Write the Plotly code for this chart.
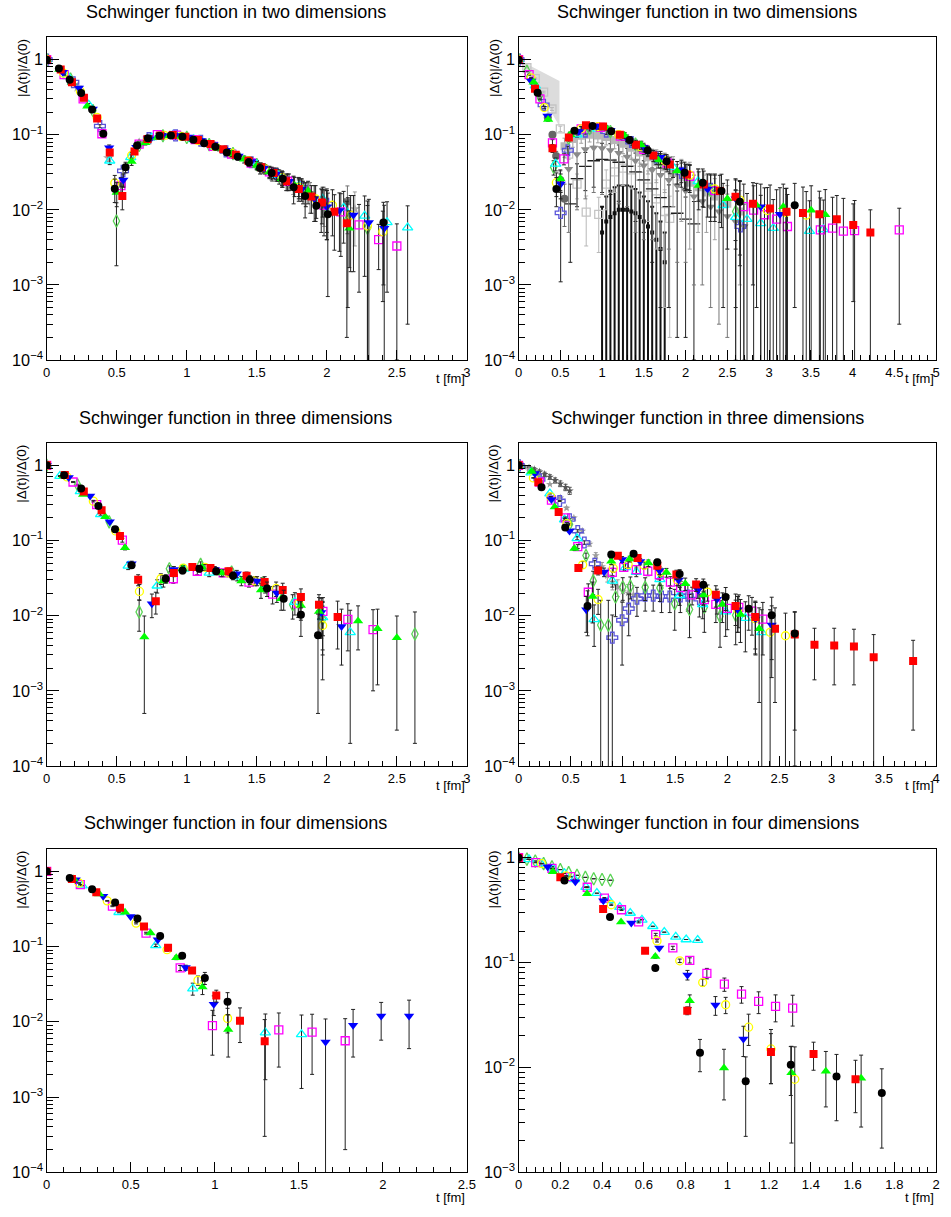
import plotly.graph_objects as go
import math

# ---------------- data ----------------
TITLES = ["Schwinger function in two dimensions", "Schwinger function in two dimensions",
          "Schwinger function in three dimensions", "Schwinger function in three dimensions",
          "Schwinger function in four dimensions", "Schwinger function in four dimensions"]
X_MAX = [3, 5, 3, 4, 2.5, 2]
Y_MIN = [1e-4, 1e-4, 1e-4, 1e-4, 1e-4, 1e-3]
Y_MAX = [2, 2, 2, 2, 2, 1.22]
X_TITLE = "t [fm]"
Y_TITLE = "|Δ(t)|/Δ(0)"

# ---- panel 1 : 2D, left ----
P1_BLACK_T = [0, 0.087, 0.164, 0.246, 0.324, 0.404, 0.486, 0.563, 0.645, 0.723, 0.805, 0.887, 0.969, 1.047, 1.124, 1.204, 1.286, 1.364, 1.443, 1.523, 1.606, 1.685, 1.763, 1.845, 1.925, 2.007, 2.404]
P1_BLACK_Y = [1, 0.76, 0.54, 0.36, 0.216, 0.103, 0.0191, 0.037, 0.0716, 0.090, 0.097, 0.098, 0.094, 0.086, 0.077, 0.069, 0.058, 0.051, 0.043, 0.036, 0.031, 0.026, 0.020, 0.0153, 0.0113, 0.0087, 0.0068]
P1_BLACK_E = [0, 0.01, 0.01, 0.01, 0.008, 0.006, 0.0066, 0.006, 0.005, 0.005, 0.005, 0.005, 0.005, 0.005, 0.005, 0.005, 0.005, 0.005, 0.005, 0.006, 0.006, 0.006, 0.008, 0.0075, 0.0036, 0.008, 0.0058]
P1_RED_T = [0, 0.1, 0.18, 0.265, 0.36, 0.45, 0.54, 0.627, 0.72, 0.81, 0.9, 0.99, 1.08, 1.17, 1.26, 1.35, 1.44, 1.53, 1.62, 1.71, 1.80, 1.89, 1.965, 2.054, 2.143]
P1_RED_Y = [1, 0.74, 0.5, 0.31, 0.165, 0.058, 0.0153, 0.060, 0.088, 0.098, 0.099, 0.094, 0.085, 0.075, 0.064, 0.054, 0.045, 0.037, 0.031, 0.024, 0.019, 0.015, 0.0125, 0.0094, 0.0066]
P1_RED_E = [0, 0.01, 0.01, 0.008, 0.006, 0.005, 0.0053, 0.005, 0.005, 0.005, 0.005, 0.005, 0.005, 0.005, 0.005, 0.005, 0.005, 0.005, 0.005, 0.006, 0.006, 0.006, 0.006, 0.0065, 0.0064]
P1_GREEN_T = [0, 0.09, 0.18, 0.29, 0.5, 0.606, 0.704, 0.79, 0.875, 0.96, 1.05, 1.14, 1.23, 1.32, 1.41, 1.50, 1.59, 1.68, 1.77, 1.866, 1.96, 2.16]
P1_GREEN_Y = [1, 0.74, 0.5, 0.24, 0.017, 0.044, 0.078, 0.092, 0.097, 0.095, 0.086, 0.076, 0.066, 0.056, 0.047, 0.039, 0.032, 0.026, 0.021, 0.018, 0.012, 0.0057]
P1_GREEN_E = [0, 0.01, 0.01, 0.008, 0.006, 0.005, 0.005, 0.005, 0.005, 0.005, 0.005, 0.005, 0.005, 0.005, 0.005, 0.005, 0.005, 0.006, 0.006, 0.006, 0.007, 0.004]
P1_BLUE_T = [0, 0.115, 0.23, 0.329, 0.446, 0.547, 0.64, 0.74, 0.83, 0.92, 1.01, 1.1, 1.19, 1.28, 1.37, 1.46, 1.55, 1.64, 1.73, 1.82, 1.91, 2.0, 2.09, 2.19, 2.3, 2.41]
P1_BLUE_Y = [1, 0.68, 0.42, 0.22, 0.067, 0.025, 0.068, 0.088, 0.097, 0.098, 0.093, 0.084, 0.074, 0.062, 0.052, 0.044, 0.036, 0.030, 0.024, 0.019, 0.014, 0.011, 0.0098, 0.0085, 0.0068, 0.0057]
P1_BLUE_E = [0, 0.01, 0.01, 0.008, 0.006, 0.005, 0.005, 0.005, 0.005, 0.005, 0.005, 0.005, 0.005, 0.005, 0.005, 0.005, 0.005, 0.005, 0.006, 0.006, 0.007, 0.007, 0.007, 0.007, 0.007, 0.0058]
P1_YELLOW_T = [0, 0.12, 0.24, 0.36, 0.486, 0.606, 0.72, 0.84, 0.96, 1.08, 1.2, 1.32, 1.44, 1.56, 1.68, 1.8, 1.92, 2.04, 2.17, 2.29, 2.4]
P1_YELLOW_Y = [1, 0.66, 0.38, 0.17, 0.0227, 0.053, 0.085, 0.098, 0.095, 0.084, 0.07, 0.057, 0.045, 0.035, 0.027, 0.02, 0.014, 0.0115, 0.0085, 0.0061, 0.0051]
P1_YELLOW_E = [0, 0.01, 0.01, 0.008, 0.006, 0.005, 0.005, 0.005, 0.005, 0.005, 0.005, 0.005, 0.005, 0.005, 0.006, 0.006, 0.007, 0.007, 0.007, 0.007, 0.0045]
P1_MAGENTA_T = [0, 0.124, 0.26, 0.394, 0.53, 0.66, 0.79, 0.927, 1.06, 1.19, 1.32, 1.46, 1.59, 1.72, 1.85, 1.98, 2.1, 2.23, 2.37, 2.5]
P1_MAGENTA_Y = [1, 0.63, 0.3, 0.103, 0.021, 0.075, 0.1, 0.099, 0.086, 0.07, 0.055, 0.042, 0.032, 0.024, 0.017, 0.0115, 0.0094, 0.0063, 0.004, 0.0033]
P1_MAGENTA_E = [0, 0.01, 0.01, 0.006, 0.006, 0.005, 0.005, 0.005, 0.005, 0.005, 0.005, 0.005, 0.006, 0.006, 0.006, 0.007, 0.007, 0.0055, 0.0024, 0.0032]
P1_CYAN_T = [0, 0.15, 0.3, 0.45, 0.6, 0.75, 0.9, 1.05, 1.2, 1.35, 1.5, 1.65, 1.8, 1.97, 2.12, 2.27, 2.43, 2.577]
P1_CYAN_Y = [1, 0.6, 0.25, 0.045, 0.05, 0.092, 0.099, 0.087, 0.07, 0.054, 0.04, 0.029, 0.021, 0.014, 0.0106, 0.0083, 0.0068, 0.0058]
P1_CYAN_E = [0, 0.01, 0.01, 0.005, 0.005, 0.005, 0.005, 0.005, 0.005, 0.005, 0.005, 0.005, 0.006, 0.006, 0.007, 0.007, 0.006, 0.0055]
P1_DIAMOND_T = [0, 0.17, 0.33, 0.498, 0.66, 0.83, 1.0, 1.16, 1.33, 1.5, 1.66, 1.83, 2.0, 2.15, 2.29]
P1_DIAMOND_Y = [1, 0.55, 0.21, 0.0071, 0.072, 0.097, 0.092, 0.074, 0.056, 0.04, 0.028, 0.018, 0.011, 0.0075, 0.0057]
P1_DIAMOND_E = [0, 0.01, 0.008, 0.0053, 0.005, 0.005, 0.005, 0.005, 0.005, 0.005, 0.006, 0.006, 0.007, 0.007, 0.0057]
P1_CROSS_T = [0, 0.19, 0.38, 0.545, 0.73, 0.92, 1.1, 1.28, 1.46, 1.64, 1.82, 2.0]
P1_CROSS_Y = [1, 0.5, 0.13, 0.033, 0.09, 0.098, 0.083, 0.06, 0.043, 0.03, 0.02, 0.012]
P1_CROSS_E = [0, 0.01, 0.006, 0.005, 0.005, 0.005, 0.005, 0.005, 0.005, 0.006, 0.006, 0.007]
P1_STAR_T = [0, 0.22, 0.44, 0.66, 0.88, 1.1, 1.32, 1.54, 1.76, 1.98, 2.2]
P1_STAR_Y = [1, 0.43, 0.049, 0.078, 0.098, 0.083, 0.055, 0.035, 0.022, 0.013, 0.0103]
P1_STAR_E = [0, 0.01, 0.005, 0.005, 0.005, 0.005, 0.005, 0.005, 0.006, 0.007, 0.007]
P1_GSQ_T = [0, 0.27, 0.54, 0.81, 1.07, 1.34, 1.61, 1.88, 2.147]
P1_GSQ_Y = [1, 0.31, 0.022, 0.097, 0.086, 0.053, 0.03, 0.016, 0.0128]
P1_GSQ_E = [0, 0.008, 0.005, 0.005, 0.005, 0.005, 0.006, 0.007, 0.008]

# ---- panel 2 : 2D, right ----
P2_BLACK_T = [0, 0.228, 0.453, 0.669, 0.886, 1.11, 1.33, 1.547, 1.772, 1.988, 2.205, 2.43, 2.65, 3.307]
P2_BLACK_Y = [1, 0.363, 0.019, 0.113, 0.131, 0.111, 0.085, 0.0615, 0.0444, 0.0311, 0.023, 0.0178, 0.0128, 0.0115]
P2_BLACK_E = [0, 0.01, 0.008, 0.008, 0.008, 0.008, 0.009, 0.009, 0.01, 0.012, 0.012, 0.012, 0.011, 0.011]
P2_RED_T = [0, 0.197, 0.406, 0.602, 0.807, 1.012, 1.213, 1.406, 1.614, 1.811, 2.016, 2.217, 2.41, 2.598, 2.807, 3.012, 3.209, 3.406, 3.602, 3.811, 4.008, 4.213]
P2_RED_Y = [1, 0.41, 0.066, 0.092, 0.134, 0.129, 0.1, 0.0738, 0.0528, 0.0402, 0.0296, 0.0218, 0.0178, 0.0149, 0.012, 0.0104, 0.0094, 0.0091, 0.0087, 0.0075, 0.0063, 0.005]
P2_RED_E = [0, 0.01, 0.008, 0.008, 0.008, 0.008, 0.008, 0.009, 0.009, 0.01, 0.011, 0.011, 0.011, 0.011, 0.011, 0.011, 0.01, 0.011, 0.009, 0.008, 0.0057, 0.005]
P2_GREEN_T = [0, 0.18, 0.354, 0.5, 0.62, 0.83, 1.05, 1.27, 1.47, 1.673, 1.9, 2.157, 2.5, 2.85, 3.17, 3.504, 3.673]
P2_GREEN_Y = [1, 0.5, 0.16, 0.026, 0.1, 0.128, 0.124, 0.098, 0.073, 0.046, 0.033, 0.021, 0.014, 0.0115, 0.011, 0.0099, 0.0086]
P2_GREEN_E = [0, 0.01, 0.008, 0.008, 0.008, 0.008, 0.008, 0.009, 0.009, 0.01, 0.011, 0.011, 0.011, 0.011, 0.011, 0.011, 0.01]
P2_BLUE_T = [0, 0.15, 0.346, 0.504, 0.72, 0.93, 1.1, 1.3, 1.496, 1.7, 1.95, 2.264, 2.6, 2.9, 3.13]
P2_BLUE_Y = [1, 0.52, 0.178, 0.022, 0.11, 0.13, 0.115, 0.09, 0.068, 0.05, 0.034, 0.019, 0.014, 0.011, 0.0087]
P2_BLUE_E = [0, 0.01, 0.008, 0.008, 0.008, 0.008, 0.008, 0.009, 0.009, 0.01, 0.011, 0.011, 0.011, 0.011, 0.011]
P2_YELLOW_T = [0, 0.15, 0.307, 0.453, 0.75, 0.95, 1.2, 1.45, 1.75, 2.05, 2.35, 2.65, 2.98, 3.2, 3.445]
P2_YELLOW_Y = [1, 0.57, 0.23, 0.023, 0.12, 0.128, 0.1, 0.07, 0.045, 0.029, 0.019, 0.0135, 0.0098, 0.0092, 0.0085]
P2_YELLOW_E = [0, 0.01, 0.008, 0.008, 0.008, 0.008, 0.008, 0.009, 0.01, 0.011, 0.011, 0.011, 0.01, 0.01, 0.009]
P2_MAGENTA_T = [0, 0.126, 0.256, 0.406, 0.543, 0.75, 0.98, 1.22, 1.5, 1.78, 2.05, 2.35, 2.697, 2.815, 2.945, 3.09, 3.22, 3.614, 3.76, 3.89, 4.024, 4.559]
P2_MAGENTA_Y = [1, 0.63, 0.30, 0.078, 0.0477, 0.12, 0.125, 0.096, 0.064, 0.042, 0.028, 0.018, 0.011, 0.0099, 0.0086, 0.0075, 0.006, 0.0054, 0.0057, 0.0052, 0.0053, 0.0054]
P2_MAGENTA_E = [0, 0.01, 0.008, 0.008, 0.008, 0.008, 0.008, 0.009, 0.009, 0.01, 0.011, 0.011, 0.011, 0.011, 0.011, 0.011, 0.01, 0.009, 0.009, 0.009, 0.008, 0.0051]
P2_CYAN_T = [0, 0.2, 0.445, 0.7, 0.95, 1.25, 1.55, 1.85, 2.15, 2.45, 2.6, 2.736, 2.9, 3.05, 3.484, 3.65]
P2_CYAN_Y = [1, 0.45, 0.041, 0.1, 0.12, 0.093, 0.06, 0.037, 0.024, 0.0115, 0.008, 0.0075, 0.0066, 0.0057, 0.0052, 0.0055]
P2_CYAN_E = [0, 0.01, 0.008, 0.008, 0.008, 0.009, 0.009, 0.01, 0.011, 0.011, 0.01, 0.009, 0.009, 0.008, 0.008, 0.008]
P2_DIAMOND_T = [0, 0.1, 0.25, 0.42, 0.6, 0.85, 1.1, 1.4, 1.7, 2.0, 2.3, 2.6]
P2_DIAMOND_Y = [1, 0.7, 0.33, 0.037, 0.09, 0.12, 0.11, 0.075, 0.046, 0.029, 0.018, 0.0095]
P2_DIAMOND_E = [0, 0.01, 0.008, 0.008, 0.008, 0.008, 0.009, 0.009, 0.01, 0.011, 0.011, 0.009]
P2_CROSS_T = [0, 0.3, 0.504, 0.59, 0.8, 1.05, 1.35, 1.65, 1.95, 2.3, 2.657]
P2_CROSS_Y = [1, 0.25, 0.0091, 0.062, 0.11, 0.11, 0.08, 0.05, 0.031, 0.019, 0.006]
P2_CROSS_E = [0, 0.01, 0.008, 0.008, 0.008, 0.009, 0.009, 0.01, 0.011, 0.011, 0.006]
# grey lattice series of panel 2
P2_BAND_T = [0, 0.1, 0.2, 0.3, 0.4, 0.49]
P2_BAND_HI = [1, 0.875, 0.76, 0.66, 0.58, 0.52]
P2_BAND_LO = [1, 0.68, 0.46, 0.3, 0.19, 0.13]
P2_GA_T = [0.55, 0.65, 0.75, 0.85, 0.95, 1.05, 1.15, 1.25, 1.35, 1.45, 1.55, 1.65, 1.75, 1.85, 1.95, 2.05, 2.15, 2.25, 2.35, 2.5, 2.65]
P2_GA_Y = [0.07, 0.088, 0.097, 0.1, 0.098, 0.093, 0.085, 0.076, 0.067, 0.058, 0.05, 0.043, 0.037, 0.031, 0.027, 0.023, 0.02, 0.017, 0.015, 0.012, 0.0095]
P2_GA_E = [0.02, 0.02, 0.02, 0.02, 0.02, 0.02, 0.02, 0.02, 0.02, 0.02, 0.02, 0.02, 0.02, 0.02, 0.02, 0.02, 0.015, 0.012, 0.011, 0.009, 0.0085]
P2_GB_T = [0.6, 0.7, 0.8, 0.9, 1.0, 1.1, 1.2, 1.3, 1.4, 1.5, 1.6, 1.7, 1.8, 1.9, 2.0, 2.1, 2.2, 2.3, 2.4, 2.5, 2.6, 2.7]
P2_GB_Y = [0.035, 0.055, 0.064, 0.067, 0.066, 0.062, 0.057, 0.051, 0.045, 0.039, 0.034, 0.029, 0.025, 0.021, 0.018, 0.015, 0.013, 0.011, 0.0095, 0.0082, 0.007, 0.006]
P2_GB_E = [0.03, 0.045, 0.05, 0.05, 0.05, 0.045, 0.045, 0.04, 0.04, 0.035, 0.03, 0.026, 0.022, 0.019, 0.016, 0.014, 0.012, 0.0105, 0.0092, 0.008, 0.0069, 0.0059]
P2_GC_T = [0.62, 0.7, 0.8, 0.9, 1.0, 1.1, 1.2, 1.3, 1.4, 1.5, 1.6, 1.7, 1.8, 1.9, 2.0, 2.1]
P2_GC_Y = [0.012, 0.026, 0.038, 0.045, 0.047, 0.046, 0.043, 0.038, 0.032, 0.025, 0.019, 0.0145, 0.011, 0.009, 0.0075, 0.0065]
P2_GC_E = [0.01, 0.015, 0.02, 0.025, 0.03, 0.03, 0.03, 0.028, 0.025, 0.02, 0.017, 0.014, 0.0105, 0.0088, 0.0073, 0.0064]
P2_GD_T = [0, 0.1, 0.2, 0.3, 0.4, 0.5, 0.6, 0.7, 0.81, 0.96, 1.05, 1.15, 1.25, 1.35, 1.45, 1.55, 1.65, 1.75, 1.81]
P2_GD_Y = [1, 0.78, 0.56, 0.37, 0.22, 0.12, 0.055, 0.022, 0.0093, 0.0087, 0.022, 0.032, 0.036, 0.034, 0.028, 0.02, 0.014, 0.0095, 0.0077]
P2_GD_E = [0, 0.01, 0.01, 0.01, 0.01, 0.01, 0.008, 0.008, 0.006, 0.006, 0.012, 0.015, 0.015, 0.015, 0.014, 0.013, 0.011, 0.009, 0.0075]
P2_GE_T = [1.0, 1.05, 1.1, 1.15, 1.2, 1.25, 1.3, 1.35, 1.4, 1.45, 1.5, 1.55, 1.6, 1.65, 1.7, 1.75]
P2_GE_Y = [0.005, 0.007, 0.008, 0.009, 0.01, 0.01, 0.01, 0.0095, 0.009, 0.008, 0.007, 0.006, 0.005, 0.004, 0.003, 0.002]
P2_GE_E = [0.006, 0.008, 0.01, 0.011, 0.011, 0.011, 0.011, 0.011, 0.01, 0.009, 0.008, 0.007, 0.006, 0.005, 0.004, 0.003]
P2_GF_T = [0.35, 0.406, 0.45, 0.5, 0.55]
P2_GF_Y = [0.17, 0.1, 0.052, 0.025, 0.014]
P2_GF_E = [0.01, 0.01, 0.008, 0.008, 0.008]

# ---- panel 3 : 3D, left ----
P3_BLACK_T = [0, 0.124, 0.246, 0.369, 0.488, 0.606, 0.85, 0.97, 1.09, 1.21, 1.33, 1.45, 1.573, 1.692, 1.815, 1.937]
P3_BLACK_Y = [1, 0.74, 0.49, 0.287, 0.141, 0.047, 0.031, 0.040, 0.042, 0.039, 0.034, 0.030, 0.023, 0.0168, 0.0103, 0.0055]
P3_BLACK_E = [0, 0.01, 0.01, 0.008, 0.006, 0.004, 0.004, 0.004, 0.004, 0.004, 0.004, 0.004, 0.005, 0.005, 0.005, 0.005]
P3_RED_T = [0, 0.129, 0.265, 0.392, 0.523, 0.653, 0.779, 0.908, 1.04, 1.169, 1.298, 1.427, 1.556, 1.685, 1.815, 1.944, 2.077]
P3_RED_Y = [1, 0.745, 0.45, 0.252, 0.115, 0.030, 0.0155, 0.037, 0.0444, 0.043, 0.039, 0.034, 0.028, 0.022, 0.0177, 0.014, 0.0096]
P3_RED_E = [0, 0.01, 0.01, 0.008, 0.006, 0.005, 0.005, 0.004, 0.004, 0.004, 0.004, 0.004, 0.005, 0.005, 0.005, 0.005, 0.006]
P3_GREEN_T = [0.12, 0.26, 0.418, 0.559, 0.697, 0.833, 0.97, 1.11, 1.249, 1.39, 1.53, 1.674, 1.815, 1.944, 2.223, 2.362, 2.5]
P3_GREEN_Y = [0.72, 0.41, 0.207, 0.080, 0.0052, 0.029, 0.042, 0.044, 0.037, 0.029, 0.022, 0.0168, 0.0137, 0.0114, 0.0085, 0.0067, 0.0051]
P3_GREEN_E = [0.01, 0.008, 0.006, 0.005, 0.0047, 0.005, 0.004, 0.004, 0.004, 0.004, 0.005, 0.005, 0.005, 0.006, 0.005, 0.0055, 0.0048]
P3_BLUE_T = [0, 0.157, 0.31, 0.45, 0.606, 0.751, 0.908, 1.05, 1.2, 1.357, 1.502, 1.643, 1.96, 2.105]
P3_BLUE_Y = [1, 0.69, 0.39, 0.177, 0.049, 0.0144, 0.041, 0.044, 0.041, 0.036, 0.029, 0.020, 0.011, 0.0072]
P3_BLUE_E = [0, 0.01, 0.008, 0.006, 0.004, 0.005, 0.004, 0.004, 0.004, 0.004, 0.004, 0.005, 0.006, 0.005]
P3_YELLOW_T = [0, 0.146, 0.333, 0.493, 0.662, 0.815, 0.974, 1.13, 1.3, 1.486, 1.638, 1.8, 1.97]
P3_YELLOW_Y = [1, 0.70, 0.334, 0.134, 0.021, 0.031, 0.043, 0.044, 0.037, 0.029, 0.023, 0.0145, 0.0074]
P3_YELLOW_E = [0, 0.01, 0.008, 0.006, 0.005, 0.005, 0.004, 0.004, 0.004, 0.004, 0.005, 0.005, 0.006]
P3_MAGENTA_T = [0, 0.188, 0.357, 0.54, 0.904, 1.075, 1.26, 1.444, 1.613, 1.796, 1.972, 2.15, 2.33]
P3_MAGENTA_Y = [1, 0.6, 0.30, 0.101, 0.031, 0.039, 0.037, 0.028, 0.0193, 0.0145, 0.0114, 0.0089, 0.0065]
P3_MAGENTA_E = [0, 0.01, 0.008, 0.006, 0.004, 0.004, 0.004, 0.004, 0.005, 0.005, 0.006, 0.0055, 0.0055]
P3_CYAN_T = [0, 0.094, 0.24, 0.385, 0.582, 0.789, 0.98, 1.16, 1.36, 1.56, 1.772, 1.97, 2.167]
P3_CYAN_Y = [1, 0.72, 0.45, 0.223, 0.046, 0.025, 0.042, 0.037, 0.033, 0.025, 0.0152, 0.0095, 0.006]
P3_CYAN_E = [0, 0.01, 0.008, 0.006, 0.005, 0.005, 0.004, 0.004, 0.004, 0.005, 0.005, 0.006, 0.0058]
P3_DIAMOND_T = [0, 0.22, 0.446, 0.66, 0.876, 1.099, 1.32, 1.54, 1.756, 1.97, 2.629]
P3_DIAMOND_Y = [1, 0.55, 0.177, 0.0112, 0.042, 0.048, 0.038, 0.027, 0.014, 0.009, 0.0057]
P3_DIAMOND_E = [0, 0.01, 0.006, 0.005, 0.004, 0.004, 0.004, 0.005, 0.005, 0.006, 0.0055]

# ---- panel 4 : 3D, right ----
P4_BLACK_T = [0, 0.22, 0.447, 0.661, 0.888, 1.102, 1.329, 1.543, 1.77, 1.984, 2.205, 2.425, 2.646]
P4_BLACK_Y = [1, 0.512, 0.149, 0.0134, 0.0653, 0.0667, 0.0512, 0.0359, 0.0257, 0.0177, 0.0124, 0.0101, 0.0058]
P4_BLACK_E = [0, 0.006, 0.005, 0.008, 0.005, 0.005, 0.005, 0.005, 0.005, 0.006, 0.006, 0.0075, 0.0055]
P4_RED_T = [0, 0.189, 0.384, 0.573, 0.762, 0.951, 1.14, 1.329, 1.512, 1.701, 1.89, 2.079, 2.268, 2.457, 2.646, 2.835, 3.024, 3.213, 3.402, 3.78]
P4_RED_Y = [1, 0.596, 0.239, 0.043, 0.0398, 0.0627, 0.0584, 0.046, 0.0352, 0.026, 0.019, 0.0134, 0.0096, 0.0067, 0.0056, 0.0041, 0.004, 0.0039, 0.0028, 0.0025]
P4_RED_E = [0, 0.006, 0.005, 0.004, 0.005, 0.005, 0.005, 0.005, 0.005, 0.005, 0.006, 0.006, 0.006, 0.006, 0.0055, 0.0027, 0.0028, 0.0027, 0.0028, 0.0022]
P4_GREEN_T = [0, 0.126, 0.346, 0.535, 0.709, 0.888, 1.065, 1.244, 1.417, 1.597, 1.773, 1.953, 2.126, 2.305]
P4_GREEN_Y = [1, 0.83, 0.28, 0.078, 0.018, 0.0528, 0.0567, 0.050, 0.0375, 0.0266, 0.0188, 0.0141, 0.0104, 0.0067]
P4_GREEN_E = [0, 0.006, 0.005, 0.004, 0.01, 0.005, 0.005, 0.005, 0.005, 0.005, 0.005, 0.006, 0.006, 0.006]
P4_BLUE_T = [0, 0.157, 0.315, 0.488, 0.649, 0.819, 0.992, 1.165, 1.35, 1.534, 1.72, 1.9, 2.1, 2.27, 2.425]
P4_BLUE_Y = [1, 0.78, 0.35, 0.134, 0.012, 0.038, 0.056, 0.0524, 0.04, 0.0298, 0.022, 0.0165, 0.012, 0.009, 0.0075]
P4_BLUE_E = [0, 0.006, 0.005, 0.004, 0.006, 0.005, 0.005, 0.005, 0.005, 0.005, 0.005, 0.006, 0.006, 0.006, 0.006]
P4_YELLOW_T = [0, 0.142, 0.309, 0.463, 0.614, 0.762, 0.907, 1.05, 1.203, 1.36, 1.52, 1.81, 2.1, 2.268, 2.41, 2.557]
P4_YELLOW_Y = [1, 0.68, 0.38, 0.168, 0.0474, 0.0164, 0.0427, 0.048, 0.047, 0.038, 0.03, 0.0206, 0.012, 0.0091, 0.006, 0.0054]
P4_YELLOW_E = [0, 0.006, 0.005, 0.005, 0.005, 0.006, 0.005, 0.005, 0.005, 0.005, 0.005, 0.005, 0.006, 0.006, 0.006, 0.0054]
P4_MAGENTA_T = [0, 0.2, 0.315, 0.447, 0.567, 0.668, 0.898, 1.008, 1.128, 1.238, 1.348, 1.455, 1.553, 1.663, 1.78, 1.89, 2.0, 2.11, 2.236, 2.34]
P4_MAGENTA_Y = [1, 0.6, 0.345, 0.2, 0.083, 0.0205, 0.0377, 0.044, 0.041, 0.039, 0.035, 0.028, 0.0236, 0.0189, 0.0163, 0.0141, 0.0125, 0.0129, 0.0115, 0.009]
P4_MAGENTA_E = [0, 0.006, 0.005, 0.005, 0.005, 0.006, 0.005, 0.005, 0.005, 0.005, 0.005, 0.005, 0.005, 0.005, 0.005, 0.006, 0.006, 0.006, 0.006, 0.006]
P4_CYAN_T = [0, 0.12, 0.3, 0.44, 0.561, 0.724, 0.898, 1.024, 1.128, 1.354, 1.543, 1.764, 1.984, 2.173, 2.33]
P4_CYAN_Y = [1, 0.8, 0.42, 0.19, 0.107, 0.0089, 0.029, 0.044, 0.038, 0.0304, 0.0187, 0.0141, 0.0113, 0.0093, 0.006]
P4_CYAN_E = [0, 0.006, 0.005, 0.005, 0.005, 0.005, 0.005, 0.005, 0.005, 0.005, 0.005, 0.005, 0.006, 0.006, 0.006]
P4_DIAMOND_T = [0, 0.2, 0.488, 0.646, 0.715, 0.787, 0.86, 0.929, 0.998, 1.071, 1.213, 1.354, 1.496, 1.638, 1.78, 1.93, 2.08]
P4_DIAMOND_Y = [1, 0.6, 0.164, 0.063, 0.029, 0.0075, 0.0075, 0.0177, 0.024, 0.0247, 0.0239, 0.0234, 0.0144, 0.0121, 0.013, 0.0098, 0.0101]
P4_DIAMOND_E = [0, 0.006, 0.005, 0.005, 0.01, 0.0085, 0.0085, 0.008, 0.008, 0.008, 0.008, 0.008, 0.008, 0.007, 0.007, 0.006, 0.006]
P4_CROSS_T = [0, 0.2, 0.394, 0.488, 0.567, 0.63, 0.73, 0.898, 0.992, 1.055, 1.134, 1.213, 1.29, 1.37, 1.449, 1.55, 1.622, 1.732]
P4_CROSS_Y = [1, 0.65, 0.335, 0.191, 0.134, 0.094, 0.049, 0.0051, 0.0087, 0.0124, 0.0168, 0.0185, 0.0185, 0.018, 0.018, 0.018, 0.0185, 0.0166]
P4_CROSS_E = [0, 0.006, 0.005, 0.005, 0.005, 0.005, 0.005, 0.0051, 0.0065, 0.007, 0.007, 0.007, 0.007, 0.007, 0.007, 0.007, 0.007, 0.007]
P4_STARL_T = [0, 0.1, 0.2, 0.3, 0.4, 0.46, 0.53, 0.61, 0.68, 0.74, 0.8, 0.85, 0.9, 0.95, 1.0, 1.05, 1.1]
P4_STARL_Y = [1, 0.88, 0.75, 0.56, 0.37, 0.27, 0.2, 0.134, 0.09, 0.063, 0.045, 0.034, 0.028, 0.024, 0.021, 0.02, 0.019]
P4_STARL_E = [0, 0.01, 0.01, 0.01, 0.01, 0.01, 0.008, 0.008, 0.006, 0.006, 0.006, 0.006, 0.006, 0.006, 0.006, 0.006, 0.006]
P4_STARD_T = [0, 0.05, 0.1, 0.15, 0.2, 0.25, 0.3, 0.35, 0.4, 0.45, 0.49]
P4_STARD_Y = [1, 0.97, 0.93, 0.88, 0.82, 0.76, 0.7, 0.63, 0.57, 0.51, 0.46]
P4_STARD_E = [0, 0.03, 0.04, 0.05, 0.05, 0.05, 0.05, 0.05, 0.05, 0.05, 0.05]

# ---- panel 5 : 4D, left ----
P5_BLACK_T = [0, 0.137, 0.27, 0.407, 0.54, 0.675, 0.806, 0.941, 1.076]
P5_BLACK_Y = [1, 0.816, 0.578, 0.385, 0.236, 0.138, 0.0756, 0.0383, 0.0184]
P5_BLACK_E = [0, 0.005, 0.005, 0.005, 0.005, 0.004, 0.004, 0.007, 0.006]
P5_RED_T = [0, 0.15, 0.295, 0.436, 0.579, 0.722, 0.865, 1.009, 1.15, 1.297]
P5_RED_Y = [1, 0.79, 0.527, 0.327, 0.185, 0.0966, 0.0479, 0.0223, 0.0103, 0.0055]
P5_RED_E = [0, 0.005, 0.005, 0.005, 0.005, 0.004, 0.004, 0.004, 0.005, 0.0052]
P5_GREEN_T = [0.16, 0.313, 0.466, 0.618, 0.771, 0.927, 1.08]
P5_GREEN_Y = [0.79, 0.50, 0.286, 0.151, 0.071, 0.029, 0.0079]
P5_GREEN_E = [0.005, 0.005, 0.005, 0.004, 0.004, 0.006, 0.0045]
P5_BLUE_T = [0.172, 0.336, 0.499, 0.661, 0.827, 0.994, 1.659, 1.823, 1.99, 2.156]
P5_BLUE_Y = [0.775, 0.467, 0.251, 0.123, 0.0525, 0.0171, 0.0054, 0.009, 0.0119, 0.0119]
P5_BLUE_E = [0.005, 0.005, 0.005, 0.004, 0.004, 0.005, 0.0055, 0.0056, 0.0062, 0.0075]
P5_YELLOW_T = [0.192, 0.36, 0.532, 0.716, 0.9, 1.076]
P5_YELLOW_Y = [0.70, 0.405, 0.205, 0.0908, 0.0356, 0.0111]
P5_YELLOW_E = [0.005, 0.005, 0.005, 0.004, 0.005, 0.004]
P5_MAGENTA_T = [0, 0.2, 0.391, 0.591, 0.794, 0.986, 1.381, 1.579, 1.776]
P5_MAGENTA_Y = [1, 0.666, 0.344, 0.151, 0.052, 0.0089, 0.0078, 0.0073, 0.0056]
P5_MAGENTA_E = [0, 0.005, 0.005, 0.004, 0.004, 0.0053, 0.0053, 0.0053, 0.0054]
P5_CYAN_T = [0.211, 0.43, 0.649, 0.869, 1.301, 1.516]
P5_CYAN_Y = [0.646, 0.286, 0.104, 0.0276, 0.0072, 0.0068]
P5_CYAN_E = [0.005, 0.005, 0.004, 0.005, 0.0055, 0.0055]

# ---- panel 6 : 4D, right ----
P6_BLACK_T = [0, 0.22, 0.438, 0.655, 0.869, 1.088, 1.304, 1.523, 1.74]
P6_BLACK_Y = [1, 0.605, 0.272, 0.0889, 0.0138, 0.0074, 0.0106, 0.0082, 0.0057]
P6_BLACK_E = [0, 0.005, 0.005, 0.004, 0.0047, 0.0052, 0.0052, 0.0051, 0.004]
P6_RED_T = [0, 0.2, 0.405, 0.606, 0.808, 1.209, 1.413, 1.614]
P6_RED_Y = [1, 0.651, 0.324, 0.13, 0.0348, 0.014, 0.0134, 0.0077]
P6_RED_E = [0, 0.005, 0.005, 0.004, 0.003, 0.007, 0.004, 0.004]
P6_GREEN_T = [0.165, 0.328, 0.491, 0.655, 0.82, 0.984, 1.307, 1.472, 1.641]
P6_GREEN_Y = [0.737, 0.453, 0.244, 0.114, 0.0432, 0.0099, 0.0089, 0.0092, 0.0079]
P6_GREEN_E = [0.005, 0.005, 0.004, 0.004, 0.006, 0.005, 0.007, 0.005, 0.0052]
P6_BLUE_T = [0.139, 0.272, 0.406, 0.54, 0.674, 0.809, 0.943, 1.077]
P6_BLUE_Y = [0.82, 0.59, 0.389, 0.239, 0.138, 0.0762, 0.0394, 0.0187]
P6_BLUE_E = [0.005, 0.005, 0.005, 0.004, 0.004, 0.008, 0.008, 0.006]
P6_YELLOW_T = [0.11, 0.228, 0.444, 0.663, 0.772, 0.882, 0.992, 1.102, 1.209, 1.323]
P6_YELLOW_Y = [0.88, 0.67, 0.356, 0.161, 0.104, 0.0645, 0.0396, 0.0242, 0.015, 0.0077]
P6_YELLOW_E = [0.005, 0.005, 0.005, 0.004, 0.004, 0.005, 0.007, 0.008, 0.008, 0.008]
P6_MAGENTA_T = [0, 0.082, 0.16, 0.249, 0.329, 0.411, 0.493, 0.575, 0.657, 0.739, 0.82, 0.902, 0.986, 1.068, 1.15, 1.231, 1.313]
P6_MAGENTA_Y = [1, 0.9, 0.79, 0.66, 0.523, 0.412, 0.319, 0.244, 0.185, 0.138, 0.105, 0.079, 0.0622, 0.05, 0.0426, 0.0382, 0.0368]
P6_MAGENTA_E = [0, 0.005, 0.005, 0.005, 0.005, 0.005, 0.005, 0.005, 0.005, 0.005, 0.006, 0.009, 0.009, 0.009, 0.01, 0.011, 0.012]
P6_CYAN_T = [0, 0.05, 0.107, 0.165, 0.22, 0.268, 0.323, 0.375, 0.433, 0.485, 0.535, 0.591, 0.643, 0.698, 0.753, 0.803, 0.858]
P6_CYAN_Y = [1, 0.964, 0.88, 0.786, 0.71, 0.623, 0.524, 0.459, 0.392, 0.338, 0.297, 0.256, 0.222, 0.195, 0.176, 0.166, 0.164]
P6_CYAN_E = [0, 0, 0, 0, 0, 0, 0, 0, 0, 0, 0, 0, 0, 0, 0, 0, 0]
P6_DIAMOND_T = [0, 0.04, 0.08, 0.12, 0.16, 0.2, 0.24, 0.28, 0.32, 0.36, 0.4, 0.44]
P6_DIAMOND_Y = [1, 0.97, 0.93, 0.88, 0.82, 0.77, 0.72, 0.68, 0.65, 0.63, 0.62, 0.61]
P6_DIAMOND_E = [0, 0, 0, 0, 0, 0, 0, 0, 0, 0, 0, 0]

# ---------------- styles ----------------
FONT = "Liberation Sans, Arial, Helvetica, sans-serif"
STY = {
    'black': dict(symbol='circle', color='#000000', size=8),
    'red': dict(symbol='square', color='#ff0000', size=8),
    'green': dict(symbol='triangle-up', color='#00ff00', size=9),
    'blue': dict(symbol='triangle-down', color='#0000ff', size=9),
    'yellow': dict(symbol='circle-open', color='#ffff00', size=8),
    'magenta': dict(symbol='square-open', color='#ff00ff', size=8),
    'cyan': dict(symbol='triangle-up-open', color='#00ffff', size=9),
    'diamond': dict(symbol='diamond-tall-open', color='#59d454', size=9),
    'cross': dict(symbol='cross-open', color='#5954d9', size=9),
    'star': dict(symbol='star', color='#a8a8a8', size=8),
    'gsq': dict(symbol='square', color='#707070', size=7),
    'ga': dict(symbol='square', color='#b8b8b8', size=8),
    'gb': dict(symbol='triangle-down', color='#8a8a8a', size=8),
    'gc': dict(symbol='line-ew-open', color='#1e1e1e', size=9),
    'gd': dict(symbol='square-open', color='#c4c4c4', size=8),
    'ge': dict(symbol='square', color='#111111', size=4),
    'gf': dict(symbol='circle', color='#666666', size=8),
    'starl': dict(symbol='star', color='#9c9c9c', size=6),
    'stard': dict(symbol='star', color='#555555', size=6),
}
ERR_COLOR = {'star': '#9a9a9a', 'ga': '#a0a0a0', 'gb': '#777777', 'gc': '#222222',
             'gd': '#b8b8b8', 'ge': '#111111', 'gf': '#666666', 'starl': '#9c9c9c',
             'stard': '#555555', 'gsq': '#707070'}

PANELS = [
    [(P1_GSQ_T, P1_GSQ_Y, P1_GSQ_E, 'gsq'), (P1_STAR_T, P1_STAR_Y, P1_STAR_E, 'star'),
     (P1_CROSS_T, P1_CROSS_Y, P1_CROSS_E, 'cross'), (P1_DIAMOND_T, P1_DIAMOND_Y, P1_DIAMOND_E, 'diamond'),
     (P1_CYAN_T, P1_CYAN_Y, P1_CYAN_E, 'cyan'), (P1_MAGENTA_T, P1_MAGENTA_Y, P1_MAGENTA_E, 'magenta'),
     (P1_YELLOW_T, P1_YELLOW_Y, P1_YELLOW_E, 'yellow'), (P1_BLUE_T, P1_BLUE_Y, P1_BLUE_E, 'blue'),
     (P1_GREEN_T, P1_GREEN_Y, P1_GREEN_E, 'green'), (P1_RED_T, P1_RED_Y, P1_RED_E, 'red'),
     (P1_BLACK_T, P1_BLACK_Y, P1_BLACK_E, 'black')],
    [(P2_GE_T, P2_GE_Y, P2_GE_E, 'ge'), (P2_GD_T, P2_GD_Y, P2_GD_E, 'gd'),
     (P2_GC_T, P2_GC_Y, P2_GC_E, 'gc'), (P2_GB_T, P2_GB_Y, P2_GB_E, 'gb'),
     (P2_GA_T, P2_GA_Y, P2_GA_E, 'ga'), (P2_GF_T, P2_GF_Y, P2_GF_E, 'gf'),
     (P2_CROSS_T, P2_CROSS_Y, P2_CROSS_E, 'cross'), (P2_DIAMOND_T, P2_DIAMOND_Y, P2_DIAMOND_E, 'diamond'),
     (P2_CYAN_T, P2_CYAN_Y, P2_CYAN_E, 'cyan'), (P2_MAGENTA_T, P2_MAGENTA_Y, P2_MAGENTA_E, 'magenta'),
     (P2_YELLOW_T, P2_YELLOW_Y, P2_YELLOW_E, 'yellow'), (P2_BLUE_T, P2_BLUE_Y, P2_BLUE_E, 'blue'),
     (P2_GREEN_T, P2_GREEN_Y, P2_GREEN_E, 'green'), (P2_RED_T, P2_RED_Y, P2_RED_E, 'red'),
     (P2_BLACK_T, P2_BLACK_Y, P2_BLACK_E, 'black')],
    [(P3_DIAMOND_T, P3_DIAMOND_Y, P3_DIAMOND_E, 'diamond'), (P3_CYAN_T, P3_CYAN_Y, P3_CYAN_E, 'cyan'),
     (P3_MAGENTA_T, P3_MAGENTA_Y, P3_MAGENTA_E, 'magenta'), (P3_YELLOW_T, P3_YELLOW_Y, P3_YELLOW_E, 'yellow'),
     (P3_BLUE_T, P3_BLUE_Y, P3_BLUE_E, 'blue'), (P3_GREEN_T, P3_GREEN_Y, P3_GREEN_E, 'green'),
     (P3_RED_T, P3_RED_Y, P3_RED_E, 'red'), (P3_BLACK_T, P3_BLACK_Y, P3_BLACK_E, 'black')],
    [(P4_STARD_T, P4_STARD_Y, P4_STARD_E, 'stard'), (P4_STARL_T, P4_STARL_Y, P4_STARL_E, 'starl'),
     (P4_CROSS_T, P4_CROSS_Y, P4_CROSS_E, 'cross'), (P4_DIAMOND_T, P4_DIAMOND_Y, P4_DIAMOND_E, 'diamond'),
     (P4_CYAN_T, P4_CYAN_Y, P4_CYAN_E, 'cyan'), (P4_MAGENTA_T, P4_MAGENTA_Y, P4_MAGENTA_E, 'magenta'),
     (P4_YELLOW_T, P4_YELLOW_Y, P4_YELLOW_E, 'yellow'), (P4_BLUE_T, P4_BLUE_Y, P4_BLUE_E, 'blue'),
     (P4_GREEN_T, P4_GREEN_Y, P4_GREEN_E, 'green'), (P4_RED_T, P4_RED_Y, P4_RED_E, 'red'),
     (P4_BLACK_T, P4_BLACK_Y, P4_BLACK_E, 'black')],
    [(P5_CYAN_T, P5_CYAN_Y, P5_CYAN_E, 'cyan'), (P5_MAGENTA_T, P5_MAGENTA_Y, P5_MAGENTA_E, 'magenta'),
     (P5_YELLOW_T, P5_YELLOW_Y, P5_YELLOW_E, 'yellow'), (P5_BLUE_T, P5_BLUE_Y, P5_BLUE_E, 'blue'),
     (P5_GREEN_T, P5_GREEN_Y, P5_GREEN_E, 'green'), (P5_RED_T, P5_RED_Y, P5_RED_E, 'red'),
     (P5_BLACK_T, P5_BLACK_Y, P5_BLACK_E, 'black')],
    [(P6_DIAMOND_T, P6_DIAMOND_Y, P6_DIAMOND_E, 'diamond'), (P6_CYAN_T, P6_CYAN_Y, P6_CYAN_E, 'cyan'),
     (P6_MAGENTA_T, P6_MAGENTA_Y, P6_MAGENTA_E, 'magenta'), (P6_YELLOW_T, P6_YELLOW_Y, P6_YELLOW_E, 'yellow'),
     (P6_BLUE_T, P6_BLUE_Y, P6_BLUE_E, 'blue'), (P6_GREEN_T, P6_GREEN_Y, P6_GREEN_E, 'green'),
     (P6_RED_T, P6_RED_Y, P6_RED_E, 'red'), (P6_BLACK_T, P6_BLACK_Y, P6_BLACK_E, 'black')],
]

# ---------------- geometry (pixels) ----------------
W, H = 951, 1217
COLS = [(43.3, 469.3), (521.7, 945.0)]
ROWS = [(37.3, 362.7), (446.0, 771.7), (855.0, 1181.0)]
TITLE_X = [235, 713]
TITLE_Y = [12, 421, 829]
XLAB_Y = [381, 791, 1206]
X_DTICK = [0.5, 0.5, 0.5, 0.5, 0.5, 0.2]
X_MINOR = [0.1, 0.1, 0.1, 0.1, 0.1, 0.04]

fig = go.Figure()
layout = dict(width=W, height=H, autosize=False, margin=dict(l=0, r=0, t=0, b=0, pad=0),
              paper_bgcolor='white', plot_bgcolor='white', showlegend=False,
              font=dict(family=FONT, color='black'))
annotations = []

for i in range(6):
    r, c = divmod(i, 2)
    n = i + 1
    xs = '' if n == 1 else str(n)
    x0, x1 = COLS[c]
    y0, y1 = ROWS[r]
    layout['xaxis' + xs] = dict(
        domain=[x0 / W, x1 / W], anchor='y' + xs, range=[0, X_MAX[i]],
        showline=True, linecolor='black', linewidth=1, mirror=True,
        ticks='inside', ticklen=10, tickwidth=1, tickcolor='black',
        tick0=0, dtick=X_DTICK[i], showgrid=False, zeroline=False,
        minor=dict(ticks='inside', ticklen=5, tickcolor='black', dtick=X_MINOR[i], tick0=0, showgrid=False),
        tickfont=dict(size=13, family=FONT, color='black'))
    layout['yaxis' + xs] = dict(
        domain=[1 - y1 / H, 1 - y0 / H], anchor='x' + xs, type='log',
        range=[math.log10(Y_MIN[i]), math.log10(Y_MAX[i])],
        showline=True, linecolor='black', linewidth=1, mirror=True,
        ticks='inside', ticklen=12, tickwidth=1, tickcolor='black',
        dtick=1, exponentformat='power', showexponent='all', showgrid=False, zeroline=False,
        minor=dict(ticks='inside', ticklen=6, tickcolor='black', dtick='D1', showgrid=False),
        tickfont=dict(size=13, family=FONT, color='black'))

    # grey band (panel 2 only)
    if i == 1:
        fig.add_trace(go.Scatter(x=P2_BAND_T, y=P2_BAND_LO, mode='lines', line=dict(width=0, color='#dcdcdc'),
                                 xaxis='x' + xs, yaxis='y' + xs, hoverinfo='skip'))
        fig.add_trace(go.Scatter(x=P2_BAND_T, y=P2_BAND_HI, mode='lines', line=dict(width=0, color='#dcdcdc'),
                                 fill='tonexty', fillcolor='#dcdcdc', xaxis='x' + xs, yaxis='y' + xs,
                                 hoverinfo='skip'))

    for (T, Y, E, key) in PANELS[i]:
        assert len(T) == len(Y) == len(E), (i, key, len(T), len(Y), len(E))
        s = STY[key]
        open_ = 'open' in s['symbol']
        ecol = ERR_COLOR.get(key, '#222222')
        thick = 2 if key == 'ge' else 1
        fig.add_trace(go.Scatter(
            x=T, y=Y, mode='markers', xaxis='x' + xs, yaxis='y' + xs,
            marker=dict(symbol=s['symbol'], size=s['size'], color=s['color'],
                        line=dict(width=1.3 if open_ else 0, color=s['color'])),
            error_y=dict(type='data', array=E, visible=True, color=ecol, thickness=thick, width=2),
            hoverinfo='x+y'))

    annotations.append(dict(text=TITLES[i], x=TITLE_X[c] / W, y=1 - TITLE_Y[r] / H, xref='paper', yref='paper',
                            showarrow=False, xanchor='center', yanchor='middle',
                            font=dict(size=18, family=FONT, color='black')))
    annotations.append(dict(text=X_TITLE, x=x1 / W, y=1 - XLAB_Y[r] / H, xref='paper', yref='paper',
                            showarrow=False, xanchor='right', yanchor='middle',
                            font=dict(size=13, family=FONT, color='black')))
    annotations.append(dict(text=Y_TITLE, x=(x0 - 25) / W, y=1 - y0 / H, xref='paper', yref='paper',
                            showarrow=False, xanchor='center', yanchor='top', textangle=-90,
                            font=dict(size=13.5, family=FONT, color='black')))

layout['annotations'] = annotations
fig.update_layout(**layout)
fig.write_html("out.html", config={'displayModeBar': False},
               post_script="document.body.style.margin='0px';document.body.style.overflow='hidden';")
